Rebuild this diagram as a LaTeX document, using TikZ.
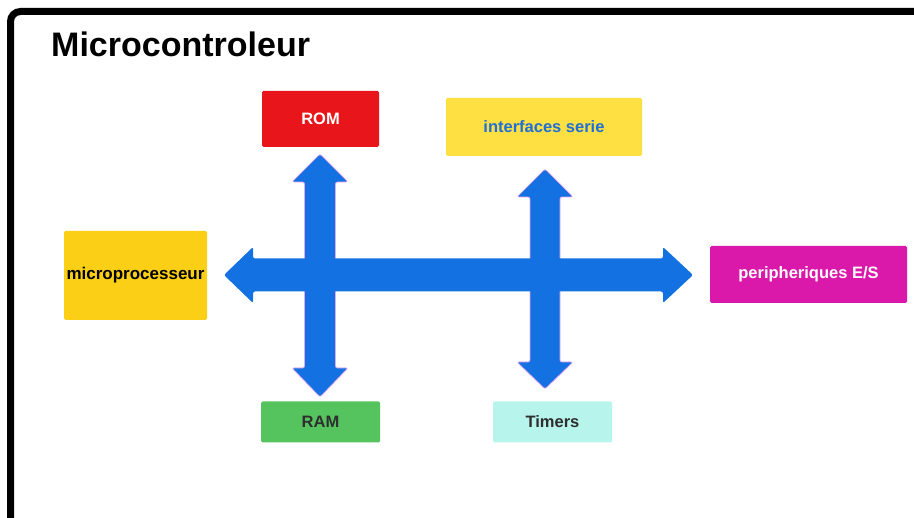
\documentclass[tikz,border=0pt]{standalone}
\usepackage{fontspec}
\setmainfont{Liberation Sans}
\definecolor{romred}{HTML}{E8161A}
\definecolor{serieyellow}{HTML}{FFE042}
\definecolor{cpuyellow}{HTML}{FCCF17}
\definecolor{periphmag}{HTML}{DA18A9}
\definecolor{ramgreen}{HTML}{55C45F}
\definecolor{timercyan}{HTML}{B7F4EC}
\definecolor{busblue}{HTML}{1371E2}
\definecolor{busedge}{HTML}{E6A6F2}
\definecolor{seriefont}{HTML}{1F6FD6}
\definecolor{darkfont}{HTML}{2E2E2E}
\tikzset{
  blockbox/.style={rectangle, rounded corners=1.5pt, inner sep=0pt,
    font=\fontsize{16.5}{18}\selectfont\bfseries},
  busarrow/.style={fill=busblue, rounded corners=2pt},
  busvert/.style={busarrow, draw=busedge, line width=0.7pt},
}
\begin{document}
\begin{tikzpicture}[x=1pt,y=-1pt]
\useasboundingbox (0,0) rectangle (914,518);
\fill[white] (0,0) rectangle (914,518);
\begin{scope}
\clip (0,0) rectangle (914,518);
% outer frame, running off the right and bottom edges
\draw[line width=7pt, rounded corners=10pt] (10.5,560) -- (10.5,11.5) -- (960,11.5);
\end{scope}
\node[anchor=base west, inner sep=0pt, font=\fontsize{34}{40}\selectfont\bfseries] (title) at (51,57) {Microcontroleur};

% vertical bus arrows
\draw[busvert] (320,154) -- (348,182) -- (335.5,182) -- (335.5,368) -- (348,368) -- (320,397)
  -- (292,368) -- (304.5,368) -- (304.5,182) -- (292,182) -- cycle;
\draw[busvert] (545,169) -- (573,197) -- (560,197) -- (560,362) -- (573,362) -- (545,389)
  -- (517,362) -- (530,362) -- (530,197) -- (517,197) -- cycle;
% horizontal bus arrow
\fill[busarrow] (224,275) -- (253,247) -- (253,258.5) -- (663,258.5) -- (663,247) -- (693,275)
  -- (663,303) -- (663,291.5) -- (253,291.5) -- (253,303) -- cycle;
% redraw the vertical shafts over the crossing
\fill[busblue] (305,258.5) rectangle (335,291.5);
\fill[busblue] (530.5,258.5) rectangle (559.5,291.5);

% blocks
\node[blockbox, fill=romred, text=white, minimum width=117pt, minimum height=56pt] (rom) at (320.5,119) {ROM};
\node[blockbox, fill=serieyellow, text=seriefont, minimum width=196pt, minimum height=58pt] (serie) at (544,127) {interfaces serie};
\node[blockbox, fill=cpuyellow, text=black, minimum width=143pt, minimum height=89pt, font=\fontsize{17}{19}\selectfont\bfseries] (cpu) at (135.5,275.5) {microprocesseur};
\node[blockbox, fill=periphmag, text=white, minimum width=197pt, minimum height=57pt] (periph) at (808.5,274.5) {peripheriques E/S};
\node[blockbox, fill=ramgreen, text=darkfont, minimum width=119pt, minimum height=41pt] (ram) at (320.5,422) {RAM};
\node[blockbox, fill=timercyan, text=darkfont, minimum width=119pt, minimum height=41pt] (timers) at (552.5,422) {Timers};
\end{tikzpicture}
\end{document}
